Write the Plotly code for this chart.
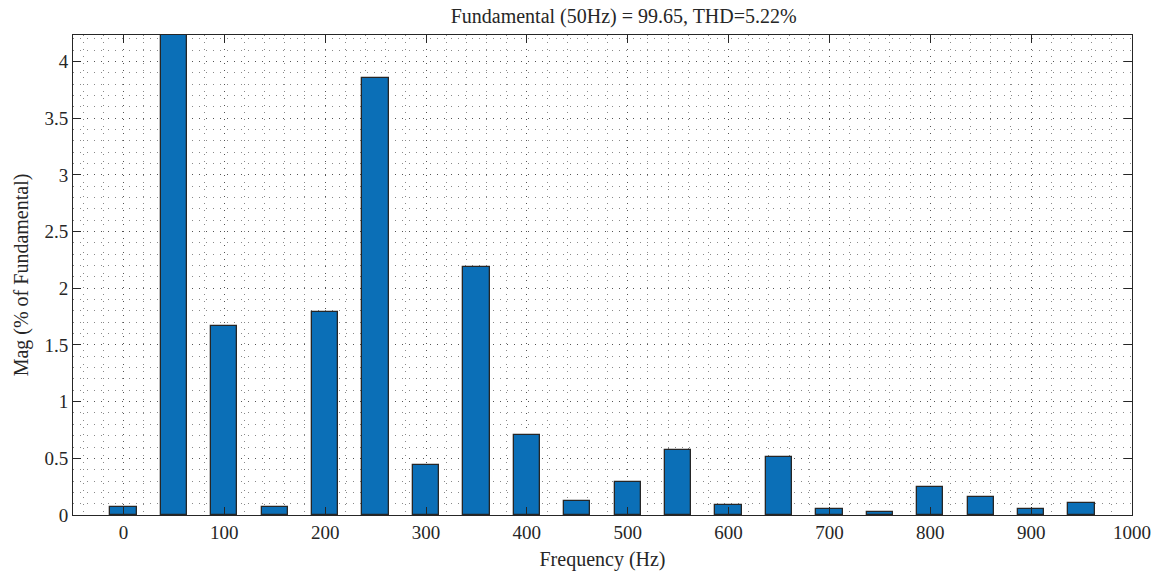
import plotly.graph_objects as go

freq_hz = [0, 50, 100, 150, 200, 250, 300, 350, 400, 450, 500, 550, 600, 650, 700, 750, 800, 850, 900, 950]
mag_pct = [0.07, 100.0, 1.67, 0.07, 1.79, 3.86, 0.44, 2.19, 0.71, 0.12, 0.29, 0.57, 0.09, 0.51, 0.05, 0.03, 0.25, 0.16, 0.05, 0.11]
x_ticks = [0, 100, 200, 300, 400, 500, 600, 700, 800, 900, 1000]
y_ticks = [0, 0.5, 1, 1.5, 2, 2.5, 3, 3.5, 4]
y_tick_labels = ["0", "0.5", "1", "1.5", "2", "2.5", "3", "3.5", "4"]
title_text = "Fundamental (50Hz) = 99.65, THD=5.22%"

FONT = "Liberation Serif"
GRIDC = "rgba(40,40,40,0.55)"
DASH = "1px,6px"
fig = go.Figure()
fig.add_trace(go.Bar(
    x=freq_hz, y=mag_pct, width=26,
    marker=dict(color="#0b6fb7", line=dict(color="#262626", width=1.3)),
    cliponaxis=True,
))

fig.update_layout(
    width=1158, height=573,
    margin=dict(l=73, r=26, t=35, b=58, autoexpand=False),
    plot_bgcolor="white", paper_bgcolor="white",
    font=dict(family=FONT, size=19, color="#262626"),
    title=dict(text=title_text, x=0.52, xanchor="center", xref="paper", y=0.972, yanchor="middle",
               font=dict(family=FONT, size=20, color="#262626")),
    showlegend=False,
    bargap=0,
)
fig.update_xaxes(
    range=[-50, 1000], tickmode="array", tickvals=x_ticks,
    ticks="inside", ticklen=8, tickcolor="#262626", tickwidth=1,
    showline=True, linecolor="#262626", linewidth=1, mirror="ticks",
    zeroline=False, layer="above traces",
    title=dict(text="Frequency (Hz)", font=dict(family=FONT, size=20), standoff=10),
    showgrid=True, gridcolor=GRIDC, gridwidth=1, griddash=DASH,
    minor=dict(dtick=20, tick0=0, showgrid=True, gridcolor=GRIDC, griddash=DASH, gridwidth=1),
)
fig.update_yaxes(
    range=[0, 4.235], tickmode="array", tickvals=y_ticks, ticktext=y_tick_labels,
    ticks="inside", ticklen=8, tickcolor="#262626", tickwidth=1,
    showline=True, linecolor="#262626", linewidth=1, mirror="ticks",
    zeroline=False, layer="above traces",
    title=dict(text="Mag (% of Fundamental)", font=dict(family=FONT, size=20), standoff=10),
    showgrid=True, gridcolor=GRIDC, gridwidth=1, griddash=DASH,
    minor=dict(dtick=0.1, tick0=0, showgrid=True, gridcolor=GRIDC, griddash=DASH, gridwidth=1),
)
fig.write_html("out.html")
